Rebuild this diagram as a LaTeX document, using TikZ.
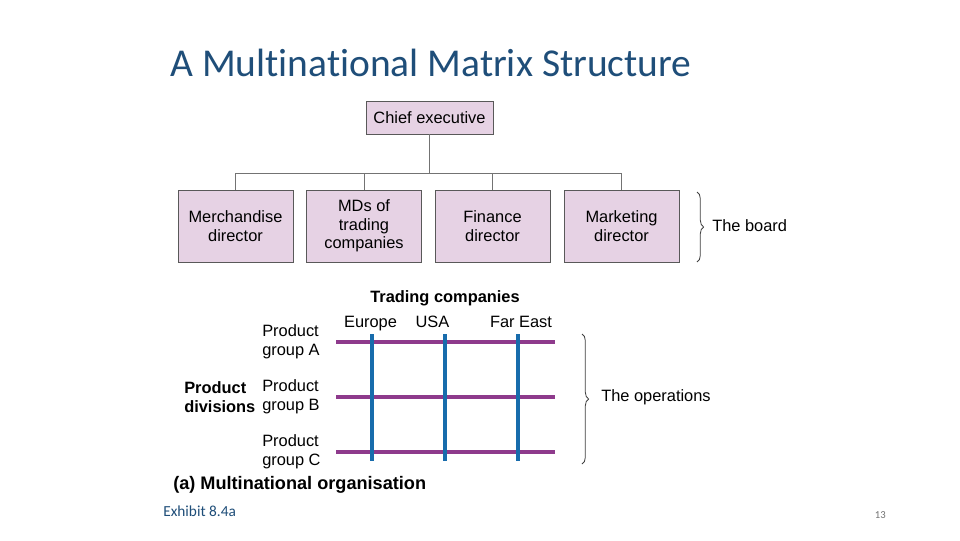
\documentclass[tikz,border=0pt]{standalone}
\usepackage{fontspec}
\setmainfont{Liberation Sans}
\newfontfamily\slidefont[Ligatures=NoCommon]{Carlito}
\usetikzlibrary{positioning, arrows.meta, decorations.pathreplacing}
\definecolor{orgpink}{RGB}{230, 210, 228}
\definecolor{orgpurple}{RGB}{142, 58, 140}
\definecolor{orgblue}{RGB}{24, 108, 172}
\definecolor{titleblue}{RGB}{31, 78, 121}

\begin{document}
\begin{tikzpicture}[x=0.75pt, y=-0.75pt,
    every node/.style={align=center, font=\fontsize{12.3}{14}\selectfont, inner sep=0pt},
    orgbox/.style={draw=black!65, fill=orgpink, minimum width=86.25pt, minimum height=54pt},
    link/.style={draw=black!55, line width=0.6pt},
    rowline/.style={orgpurple, line width=3pt},
    colline/.style={orgblue, line width=3pt},
    bracket/.style={draw=black!75, line width=0.6pt, decorate, decoration={brace, amplitude=5pt}}]
    \fill[white] (0,0) rectangle (960,540);
    \useasboundingbox (0,0) rectangle (960,540);

    \node[anchor=base west, font=\slidefont\fontsize{29.6}{34}\selectfont, text=titleblue] (title) at (170,76) {A Multinational Matrix Structure};

    % the board
    \node[orgbox, minimum width=95.25pt, minimum height=24.75pt] (chief) at (429.5,117.5) {Chief executive};
    \node[orgbox] (merch) at (235.5,226) {Merchandise\\director};
    \node[orgbox] (mds)   at (364,226)   {MDs of\\trading\\companies};
    \node[orgbox] (fin)   at (492.5,226) {Finance\\director};
    \node[orgbox] (mkt)   at (621.5,226) {Marketing\\director};

    \draw[link] (chief.south) -- ++(0,39) coordinate (bus);
    \draw[link] (merch.north |- bus) -- (mkt.north |- bus);
    \foreach \b in {merch, mds, fin, mkt}
      \draw[link] (\b.north |- bus) -- (\b.north);

    \draw[bracket] (697,192) -- (697,262);
    \node[anchor=west] (board) at (712,226) {The board};

    % the operations
    \node[font=\bfseries\fontsize{12.3}{14}\selectfont] (trading) at (445,298) {Trading companies};
    \node[anchor=base] (europe)  at (370.5,327) {Europe};
    \node[anchor=base] (usa)     at (432.5,327) {USA};
    \node[anchor=base] (fareast) at (521,327)   {Far East};

    \node[anchor=west, align=left] (grpa) at (262,342) {Product\\group A};
    \node[anchor=west, align=left] (grpb) at (262,397) {Product\\group B};
    \node[anchor=west, align=left] (grpc) at (262,452) {Product\\group C};
    \node[anchor=west, align=left, font=\bfseries\fontsize{12.3}{14}\selectfont] (divisions) at (184,397) {Product\\divisions};

    \foreach \y in {342,397,452}
      \draw[rowline] (336,\y) -- (555,\y);
    \foreach \x in {372,445,518}
      \draw[colline] (\x,334) -- (\x,461);

    \draw[bracket] (582,334) -- (582,464);
    \node[anchor=west] (operations) at (601,397) {The operations};

    \node[anchor=west, font=\bfseries\fontsize{13.6}{16}\selectfont] (caption) at (173,485) {(a) Multinational organisation};

    \node[anchor=base west, font=\slidefont\fontsize{11.5}{14}\selectfont, text=titleblue] (exhibit) at (163,516) {Exhibit 8.4a};
    \node[anchor=base east, font=\slidefont\fontsize{8}{10}\selectfont, text=black!55] (pageno) at (886,518) {13};
\end{tikzpicture}
\end{document}
